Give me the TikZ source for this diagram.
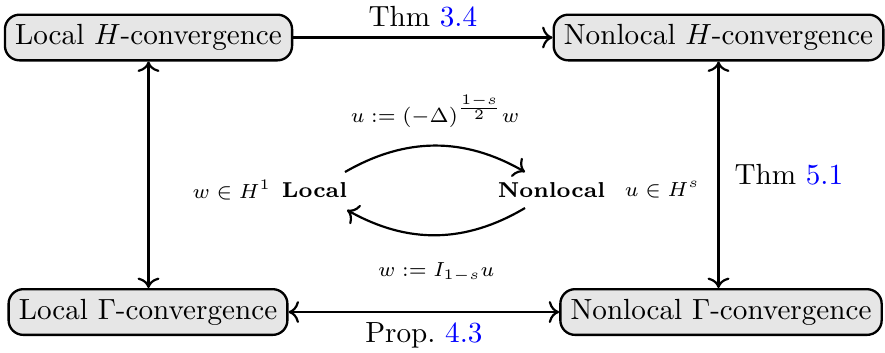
\documentclass[tikz,border=0pt]{standalone}
\usepackage{amsmath,amssymb}
\usetikzlibrary{arrows.meta,positioning}
\definecolor{boxGray}{HTML}{E6E6E6}
\definecolor{refBlue}{HTML}{0000FF}

\begin{document}
\begin{tikzpicture}[
  x=0.343pt, y=-0.343pt,
  conv/.style={
    draw, thick, rounded corners=5pt, fill=boxGray,
    inner xsep=3.5pt, minimum height=15.6pt},
  ar/.style={-{To[scale=1.1]}, line width=0.75pt},
  dar/.style={{To[scale=1.1]}-{To[scale=1.1]}, line width=0.75pt},
  lbl/.style={font=\normalsize},
  mini/.style={font=\scriptsize, inner sep=1pt},
  side/.style={font=\fontsize{7.4}{9}\selectfont\bfseries},
]
\useasboundingbox (0,0) rectangle (885,352);

% ---------------- convergence boxes ----------------
\node[conv] (locH)  at (148.5,37.5) {Local $H$-convergence};
\node[conv] (nlocH) at (718.5,37.5) {Nonlocal $H$-convergence};
\node[conv] (locG)  at (148,312)    {Local $\Gamma$-convergence};
\node[conv] (nlocG) at (721,312)    {Nonlocal $\Gamma$-convergence};

% ---------------- middle sketch ----------------
\node[side] (loc)  at (314.5,190) {Local};
\node[side] (nloc) at (551.5,190) {Nonlocal};
\node[mini, left=-1pt of loc]  (wH) {$w\in H^1$};
\node[mini, right=2pt of nloc] (uH) {$u\in H^s$};

\coordinate (locTop)  at (345,172);
\coordinate (nlocTop) at (525,172);
\coordinate (nlocBot) at (525,208);
\coordinate (locBot)  at (347,210);

\draw[ar] (locTop) to[bend left=30]
  node[mini, above=5pt] {$u:=(-\Delta)^{\frac{1-s}{2}}w$} (nlocTop);
\draw[ar] (nlocBot) to[bend left=30]
  node[mini, below=8pt] {$w:=I_{1-s}u$} (locBot);

% ---------------- arrows ----------------
\draw[ar]  (locH)  -- node[lbl, above]{Thm \textcolor{refBlue}{3.4}} (nlocH);
\draw[dar] (locG)  -- node[lbl, below]{Prop.\ \textcolor{refBlue}{4.3}} (nlocG);
\draw[dar] (locH.south)  -- (locH.south |- locG.north);
\draw[dar] (nlocH.south) -- node[lbl, right=1.8pt]{Thm \textcolor{refBlue}{5.1}} (nlocH.south |- nlocG.north);

\end{tikzpicture}
\end{document}
